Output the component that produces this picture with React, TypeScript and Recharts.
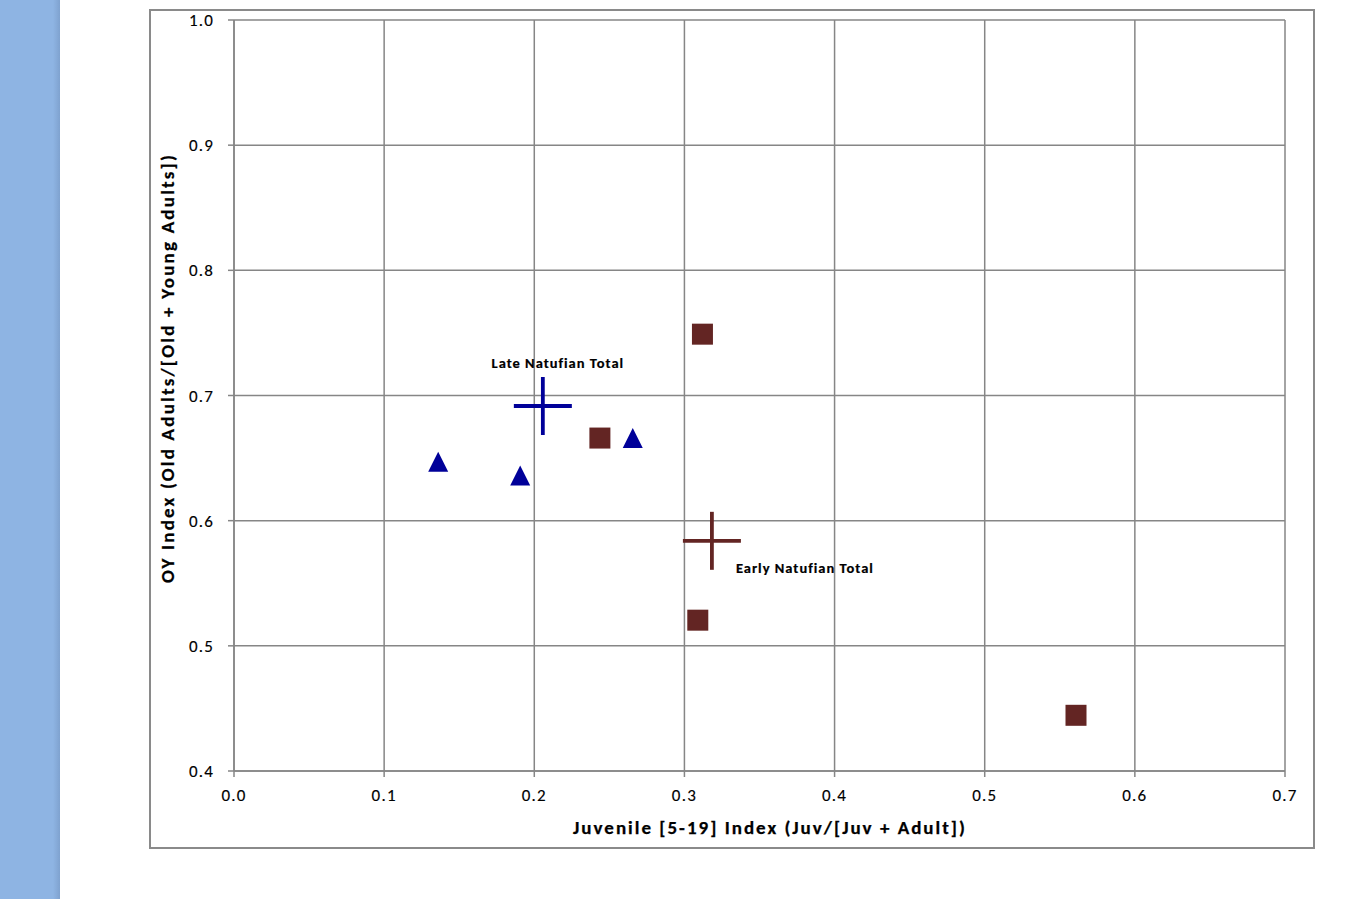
import React from "react";
import { ScatterChart, Scatter, XAxis, YAxis, CartesianGrid } from "recharts";

const xTicks = [0, 0.1, 0.2, 0.3, 0.4, 0.5, 0.6, 0.7];
const yTicks = [0.4, 0.5, 0.6, 0.7, 0.8, 0.9, 1.0];

const lateSitesX = [0.136, 0.1906, 0.2656];
const lateSitesY = [0.647, 0.636, 0.666];
const earlySitesX = [0.312, 0.2437, 0.3089, 0.5608];
const earlySitesY = [0.749, 0.666, 0.5205, 0.4445];
const lateTotalX = [0.2057];
const lateTotalY = [0.6916];
const earlyTotalX = [0.3183];
const earlyTotalY = [0.5839];
const totalLabels = ["Late Natufian Total", "Early Natufian Total"];

const lateSites = lateSitesX.map((x, i) => ({ x, y: lateSitesY[i] }));
const earlySites = earlySitesX.map((x, i) => ({ x, y: earlySitesY[i] }));
const lateTotal = lateTotalX.map((x, i) => ({ x, y: lateTotalY[i], label: totalLabels[0] }));
const earlyTotal = earlyTotalX.map((x, i) => ({ x, y: earlyTotalY[i], label: totalLabels[1] }));

const BLUE = "#000099";
const RED = "#632523";
const GRID = "#868686";
const FONT = "Carlito, Lato, 'Liberation Sans', sans-serif";

const Triangle = (props: any) => {
  const { cx, cy } = props;
  const w = 10, h = 10;
  return <path d={`M${cx},${cy - h} L${cx + w},${cy + h} L${cx - w},${cy + h} Z`} fill={BLUE} />;
};

const Square = (props: any) => {
  const { cx, cy } = props;
  return <rect x={cx - 10.5} y={cy - 10.5} width={21} height={21} fill={RED} />;
};

const makeCross = (color: string, dx: number, dy: number, anchor: string) => (props: any) => {
  const { cx, cy, payload } = props;
  const a = 29;
  return (
    <g>
      <line x1={cx - a} y1={cy} x2={cx + a} y2={cy} stroke={color} strokeWidth={3.8} />
      <line x1={cx} y1={cy - a} x2={cx} y2={cy + a} stroke={color} strokeWidth={3.8} />
      <text x={cx + dx} y={cy + dy} textAnchor={anchor} dominantBaseline="central"
        fontFamily={FONT} fontWeight="bold" fontSize={14.5} letterSpacing={1.0} fill="#000"
        stroke="#000" strokeWidth={0.2}>
        {payload && payload.label}
      </text>
    </g>
  );
};

const LateCross = makeCross(BLUE, 15, -43, "middle");
const EarlyCross = makeCross(RED, 24, 27, "start");

export default function App() {
  return (
    <div style={{ position: "absolute", left: 0, top: 0, width: 1347, height: 899, background: "#fff", overflow: "hidden" }}>
      <div style={{ position: "absolute", left: 0, top: 0, width: 60, height: 899,
        background: "linear-gradient(to right, #8EB4E3 0px, #8EB4E3 53px, #7FA2CF 60px)" }} />
      <div style={{ position: "absolute", left: 149, top: 9, width: 1162, height: 836, border: "2px solid #8a8a8a" }} />
      <div style={{ position: "absolute", left: 0, top: 0 }}>
        <ScatterChart width={1347} height={899} margin={{ top: 20, right: 62, bottom: 88, left: 184 }}>
          <CartesianGrid stroke={GRID} strokeWidth={1.5} />
          <XAxis type="number" dataKey="x" domain={[0, 0.7]} ticks={xTicks} height={40}
            tickFormatter={(v: number) => v.toFixed(1)} stroke={GRID} strokeWidth={1.5}
            tickSize={6} tickMargin={12}
            tick={{ fill: "#000", fontSize: 17, fontFamily: FONT, letterSpacing: 1.2, stroke: "#000", strokeWidth: 0.15 }}
            allowDataOverflow
            label={{ content: () => (
              <text x={770} y={827} textAnchor="middle" dominantBaseline="central"
                fontFamily={FONT} fontWeight="bold" fontSize={19} letterSpacing={2.0} fill="#000"
                stroke="#000" strokeWidth={0.25}>
                Juvenile [5-19] Index (Juv/[Juv + Adult])
              </text>
            ) }} />
          <YAxis type="number" dataKey="y" domain={[0.4, 1.0]} ticks={yTicks} width={50}
            tickFormatter={(v: number) => v.toFixed(1)} stroke={GRID} strokeWidth={1.5}
            tickSize={6} tickMargin={14}
            tick={{ fill: "#000", fontSize: 17, fontFamily: FONT, letterSpacing: 1.2, stroke: "#000", strokeWidth: 0.15 }}
            allowDataOverflow
            label={{ content: () => (
              <text x={167} y={368} textAnchor="middle" dominantBaseline="central"
                transform="rotate(-90 167 368)"
                fontFamily={FONT} fontWeight="bold" fontSize={19} letterSpacing={2.2} fill="#000"
                stroke="#000" strokeWidth={0.25}>
                OY Index (Old Adults/[Old + Young Adults])
              </text>
            ) }} />
          <Scatter data={earlySites} shape={Square} isAnimationActive={false} />
          <Scatter data={lateSites} shape={Triangle} isAnimationActive={false} />
          <Scatter data={lateTotal} shape={LateCross} isAnimationActive={false} />
          <Scatter data={earlyTotal} shape={EarlyCross} isAnimationActive={false} />
        </ScatterChart>
      </div>
    </div>
  );
}
